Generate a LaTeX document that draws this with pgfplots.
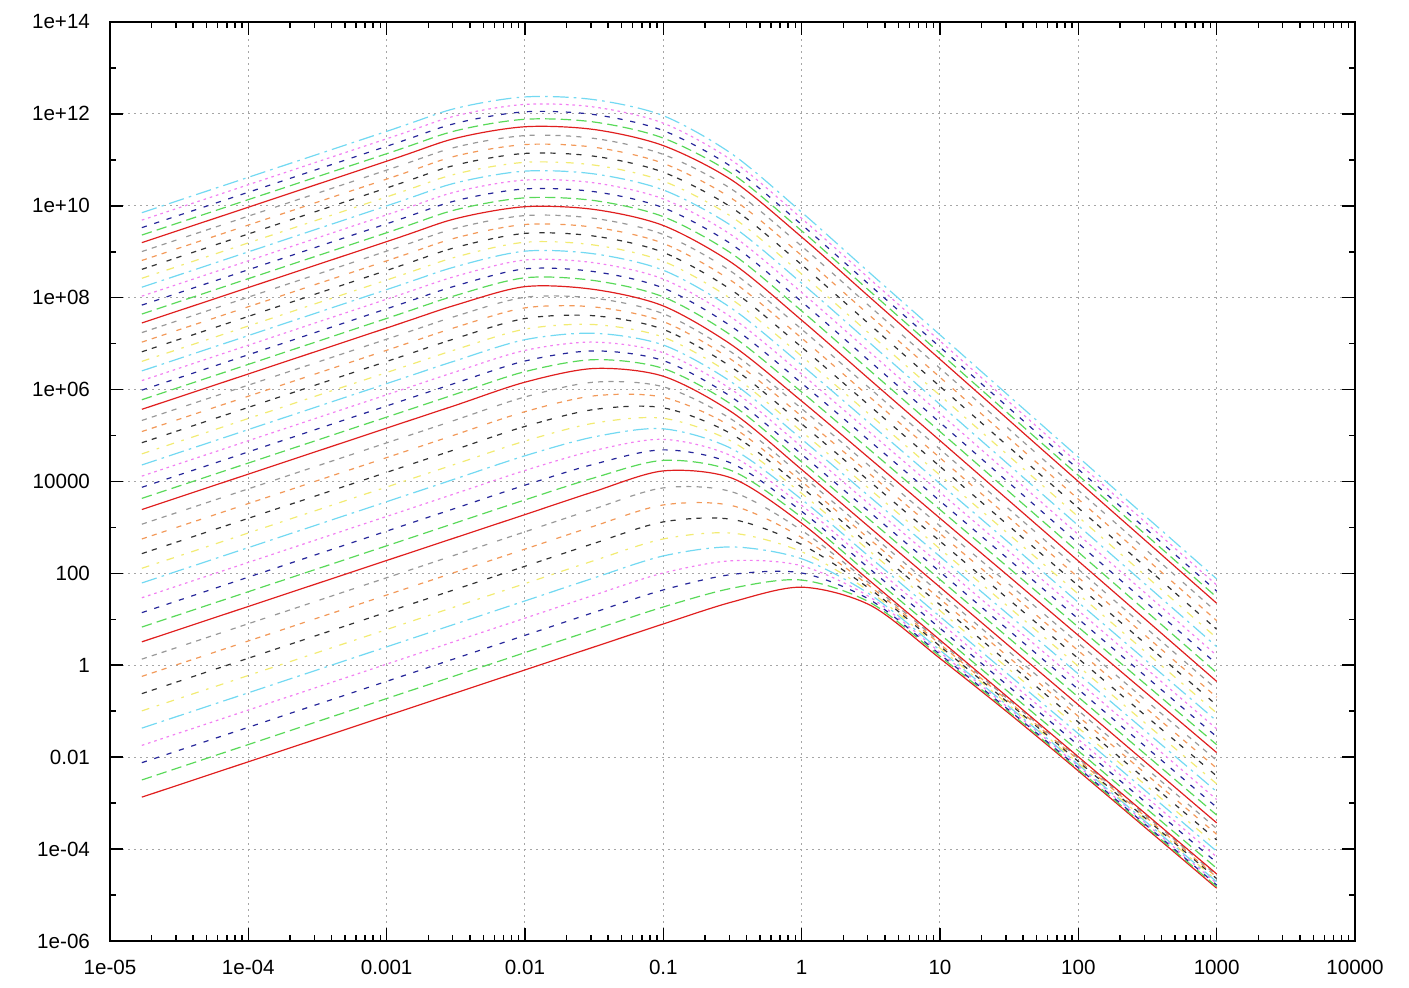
\documentclass[border=0pt]{standalone}
\usepackage{pgfplots}
\pgfplotsset{compat=1.18}
\usepackage{pgfplotstable}
\usepackage{fontspec}
\setmainfont{Liberation Sans}

% gnuplot postscript line types
\definecolor{gpred}{rgb}{0.88,0.12,0.12}
\definecolor{gpgreen}{rgb}{0.35,0.85,0.35}
\definecolor{gpblue}{rgb}{0.15,0.15,0.6}
\definecolor{gpmagenta}{rgb}{0.95,0.5,0.95}
\definecolor{gpcyan}{rgb}{0.45,0.85,0.95}
\definecolor{gpyellow}{rgb}{0.95,0.92,0.45}
\definecolor{gpblack}{rgb}{0.2,0.2,0.2}
\definecolor{gporange}{rgb}{0.95,0.6,0.35}
\definecolor{gpgray}{rgb}{0.6,0.6,0.6}

\pgfplotscreateplotcyclelist{gnuplot}{
  {gpred, solid},
  {gpgreen, dash pattern=on 5.2pt off 2.6pt},
  {gpblue, dash pattern=on 2.6pt off 3.9pt},
  {gpmagenta, dash pattern=on 1.3pt off 1.95pt},
  {gpcyan, dash pattern=on 7.8pt off 2.6pt on 1.3pt off 2.6pt},
  {gpyellow, dash pattern=on 3.9pt off 3.9pt on 1.3pt off 3.9pt},
  {gpblack, dash pattern=on 2.6pt off 2.6pt on 2.6pt off 5.2pt},
  {gporange, dash pattern=on 2.6pt off 2.6pt on 2.6pt off 2.6pt on 2.6pt off 5.2pt},
  {gpgray, dash pattern=on 2.6pt off 2.6pt on 2.6pt off 2.6pt on 2.6pt off 2.6pt on 2.6pt off 5.2pt}
}

% one row per x, one column per curve (c0 = lowest curve, c49 = highest)
\pgfplotstableread[row sep=\\]{
x c0 c1 c2 c3 c4 c5 c6 c7 c8 c9 c10 c11 c12 c13 c14 c15 c16 c17 c18 c19 c20 c21 c22 c23 c24
  c25 c26 c27 c28 c29 c30 c31 c32 c33 c34 c35 c36 c37 c38 c39 c40 c41 c42 c43 c44 c45 c46 c47 c48 c49 \\
1.7e-5
 1.35e-3 3.2e-3 7.6e-3 1.81e-2 4.29e-2 0.102 0.242 0.574 1.36
 3.24 6.8 14 29.5 62 129 269 562 1175
 2455 4290 7480 1.31e4 2.29e4 3.99e4 6.97e4 1.22e5 2.13e5
 3.72e5 6.01e5 9.73e5 1.57e6 2.55e6 4.11e6 6.65e6 1.08e7 1.74e7
 2.82e7 4.41e7 6.9e7 1.08e8 1.69e8 2.64e8 4.14e8 6.47e8 1.01e9
 1.58e9 2.31e9 3.35e9 4.88e9 7.08e9 \\
1e-3
 7.95e-2 0.189 0.448 1.06 2.52 6.0 14.3 33.8 80.4
 191 398 832 1738 3631 7586 1.58e4 3.31e4 6.92e4
 1.45e5 2.52e5 4.41e5 7.71e5 1.35e6 2.35e6 4.1e6 7.18e6 1.25e7
 2.19e7 3.54e7 5.73e7 9.27e7 1.5e8 2.42e8 3.92e8 6.34e8 1.03e9
 1.66e9 2.59e9 4.06e9 6.35e9 9.95e9 1.56e10 2.44e10 3.81e10 5.97e10
 9.33e10 1.36e11 1.97e11 2.87e11 4.17e11 \\
3.16e-3
 0.251 0.597 1.42 3.37 7.98 19.0 45.1 107 254
 603 1259 2630 5495 1.15e4 2.4e4 5.01e4 1.05e5 2.19e5
 4.57e5 7.98e5 1.39e6 2.44e6 4.26e6 7.43e6 1.3e7 2.27e7 3.96e7
 6.92e7 1.12e8 1.81e8 2.93e8 4.74e8 7.66e8 1.24e9 2.0e9 3.24e9
 5.25e9 8.2e9 1.29e10 2.01e10 3.15e10 4.92e10 7.71e10 1.21e11 1.89e11
 2.95e11 4.3e11 6.24e11 9.08e11 1.32e12 \\
1e-2
 0.794 1.89 4.48 10.6 25.2 60.0 143 338 804
 1905 3981 8318 1.74e4 3.63e4 7.59e4 1.58e5 3.31e5 6.92e5
 1.45e6 2.46e6 4.19e6 7.14e6 1.22e7 2.07e7 3.52e7 6.0e7 1.02e8
 1.74e8 2.71e8 4.24e8 6.61e8 1.03e9 1.61e9 2.51e9 3.92e9 6.12e9
 9.55e9 1.49e10 2.33e10 3.63e10 5.68e10 8.83e10 1.38e11 2.15e11 3.37e11
 5.25e11 7.64e11 1.11e12 1.61e12 2.34e12 \\
3.16e-2
 2.51 5.97 14.2 33.7 79.8 190 451 1069 2541
 6026 1.2e4 2.38e4 4.71e4 9.35e4 1.86e5 3.69e5 7.31e5 1.45e6
 2.88e6 4.48e6 6.95e6 1.08e7 1.68e7 2.6e7 4.04e7 6.28e7 9.75e7
 1.51e8 2.36e8 3.69e8 5.75e8 9.0e8 1.4e9 2.19e9 3.41e9 5.33e9
 8.32e9 1.3e10 2.03e10 3.16e10 4.94e10 7.69e10 1.2e11 1.88e11 2.93e11
 4.57e11 6.65e11 9.66e11 1.41e12 2.04e12 \\
0.1
 7.94 18.6 43.7 102 240 562 1321 3090 7261
 1.7e4 2.88e4 4.88e4 8.26e4 1.4e5 2.37e5 4.01e5 6.79e5 1.15e6
 1.95e6 2.88e6 4.27e6 6.31e6 9.33e6 1.38e7 2.04e7 3.02e7 4.47e7
 6.61e7 1.04e8 1.62e8 2.54e8 3.96e8 6.19e8 9.68e8 1.52e9 2.37e9
 3.72e9 5.79e9 9.06e9 1.41e10 2.21e10 3.44e10 5.37e10 8.38e10 1.31e11
 2.04e11 2.97e11 4.32e11 6.28e11 9.12e11 \\
0.316
 24.0 47.8 95.1 189 376 750 1493 2965 5916
 1.17e4 1.69e4 2.44e4 3.52e4 5.08e4 7.31e4 1.05e5 1.52e5 2.19e5
 3.16e5 4.59e5 6.66e5 9.72e5 1.41e6 2.05e6 2.98e6 4.33e6 6.28e6
 9.13e6 1.45e7 2.28e7 3.6e7 5.7e7 8.97e7 1.42e8 2.25e8 3.56e8
 5.62e8 8.89e8 1.41e9 2.24e9 3.55e9 5.62e9 8.89e9 1.41e10 2.24e10
 3.55e10 4.93e10 6.84e10 9.53e10 1.32e11 \\
1
 50.1 71.6 102 146 208 296 424 604 863
 1230 1660 2239 3020 4074 5495 7413 1e4 1.35e4
 1.82e4 2.66e4 3.9e4 5.71e4 8.36e4 1.22e5 1.79e5 2.62e5 3.85e5
 5.62e5 8.83e5 1.38e6 2.17e6 3.41e6 5.33e6 8.38e6 1.32e7 2.06e7
 3.24e7 5.14e7 8.17e7 1.3e8 2.07e8 3.27e8 5.21e8 8.28e8 1.32e9
 2.09e9 2.85e9 3.89e9 5.31e9 7.24e9 \\
3.16
 20.0 22.8 26.0 29.7 34.0 38.8 44.3 50.7 57.8
 66.1 88.9 120 161 217 291 392 527 710
 955 1400 2056 3020 4436 6501 9550 1.4e4 2.06e4
 3.02e4 4.69e4 7.28e4 1.13e5 1.76e5 2.72e5 4.23e5 6.58e5 1.02e6
 1.58e6 2.5e6 3.96e6 6.25e6 9.91e6 1.56e7 2.48e7 3.91e7 6.19e7
 9.77e7 1.33e8 1.8e8 2.44e8 3.31e8 \\
10
 1.41 1.57 1.73 1.92 2.13 2.36 2.61 2.89 3.21
 3.55 4.76 6.4 8.57 11.5 15.5 20.7 27.8 37.3
 50.1 73.5 108 158 233 341 501 736 1081
 1585 2443 3767 5808 8954 1.37e4 2.12e4 3.27e4 5.04e4
 7.76e4 1.22e5 1.92e5 3.02e5 4.75e5 7.46e5 1.17e6 1.85e6 2.91e6
 4.57e6 6.21e6 8.41e6 1.14e7 1.55e7 \\
31.6
 8.91e-2 9.7e-2 0.105 0.115 0.125 0.136 0.148 0.161 0.175
 0.191 0.255 0.341 0.457 0.612 0.819 1.1 1.47 1.96
 2.63 3.87 5.69 8.39 12.3 18.2 26.7 39.4 57.8
 85.1 130 198 302 461 701 1072 1633 2495
 3802 5943 9311 1.46e4 2.28e4 3.56e4 5.58e4 8.73e4 1.37e5
 2.14e5 2.9e5 3.94e5 5.35e5 7.24e5 \\
100
 5.01e-3 5.43e-3 5.87e-3 6.37e-3 6.89e-3 7.45e-3 8.07e-3 8.73e-3 9.46e-3
 1.02e-2 1.37e-2 1.82e-2 2.44e-2 3.25e-2 4.35e-2 5.79e-2 7.74e-2 0.103
 0.138 0.203 0.299 0.441 0.647 0.953 1.4 2.07 3.03
 4.47 6.76 10.2 15.5 23.4 35.5 53.7 81.3 123
 186 290 452 701 1094 1702 2655 4121 6427
 1e4 1.36e4 1.84e4 2.5e4 3.39e4 \\
1000
 1.41e-5 1.53e-5 1.66e-5 1.79e-5 1.94e-5 2.1e-5 2.28e-5 2.46e-5 2.67e-5
 2.88e-5 3.83e-5 5.09e-5 6.76e-5 8.97e-5 1.19e-4 1.58e-4 2.1e-4 2.8e-4
 3.72e-4 5.5e-4 8.13e-4 1.2e-3 1.78e-3 2.63e-3 3.89e-3 5.75e-3 8.51e-3
 1.26e-2 1.87e-2 2.79e-2 4.14e-2 6.15e-2 9.14e-2 0.136 0.202 0.301
 0.447 0.689 1.07 1.64 2.55 3.93 6.08 9.38 14.5
 22.4 30.4 41.2 56.0 75.9 \\
}\curves

\begin{document}
\begin{tikzpicture}
\useasboundingbox (-55pt,-23.5pt) rectangle (649.5pt,470.5pt);
\begin{axis}[
    at={(0pt,0pt)}, anchor=south west,
    scale only axis,
    width=622.5pt, height=459.5pt,
    xmode=log, ymode=log,
    xmin=1e-5, xmax=1e4,
    ymin=1e-6, ymax=1e14,
    xtick={1e-5,1e-4,1e-3,1e-2,1e-1,1,10,100,1000,10000},
    xticklabels={1e-05,1e-04,0.001,0.01,0.1,1,10,100,1000,10000},
    ytick={1e-6,1e-4,1e-2,1,1e2,1e4,1e6,1e8,1e10,1e12,1e14},
    yticklabels={1e-06,1e-04,0.01,1,100,10000,1e+06,1e+08,1e+10,1e+12,1e+14},
    minor ytick={1e-5,1e-3,1e-1,10,1e3,1e5,1e7,1e9,1e11,1e13},
    tick align=inside,
    major tick length=6.5pt, minor tick length=3.2pt,
    tick style={black, line width=0.8pt},
    axis line style={black, line width=1.2pt},
    grid=major,
    major grid style={gray!70, line width=0.5pt, dash pattern=on 1pt off 2pt},
    tick label style={font=\fontsize{10.3}{12}\selectfont},
    xticklabel style={yshift=-6pt},
    yticklabel style={xshift=-6.5pt},
    cycle list name=gnuplot,
    no markers,
    every axis plot/.append style={line width=0.6pt},
]
\pgfplotsinvokeforeach{0,...,49}{
  \addplot+[smooth, tension=0.5] table[x=x, y=c#1] {\curves};
}
\end{axis}
\end{tikzpicture}
\end{document}
